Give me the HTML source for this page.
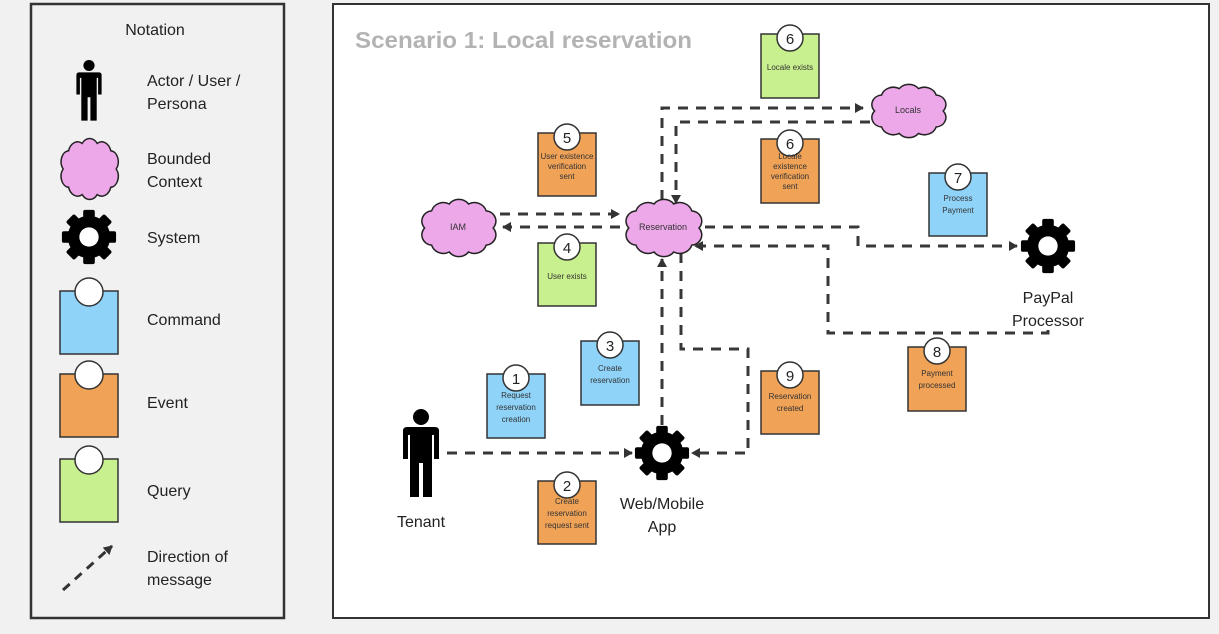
<!DOCTYPE html>
<html><head><meta charset="utf-8"><style>
html,body{margin:0;padding:0;background:#f1f1f1;}
svg{display:block;font-family:"Liberation Sans",sans-serif;}
</style></head><body>
<svg width="1219" height="634" viewBox="0 0 1219 634" xmlns="http://www.w3.org/2000/svg">
<defs>
<symbol id="gear" viewBox="-30 -30 60 60">
<g fill="#000">
<circle r="22"/>
<rect x="-6" y="-28" width="12" height="56" rx="2"/>
<rect x="-6" y="-28" width="12" height="56" rx="2" transform="rotate(45)"/>
<rect x="-6" y="-28" width="12" height="56" rx="2" transform="rotate(90)"/>
<rect x="-6" y="-28" width="12" height="56" rx="2" transform="rotate(135)"/>
</g>
<circle r="10" fill="#fff"/>
</symbol>
<symbol id="cloud" viewBox="0 0 100 70" preserveAspectRatio="none">
<path d="M20,55 a12,12 0 0 1 -8,-20 a12,12 0 0 1 8,-20 a14,14 0 0 1 20,-8 a14,14 0 0 1 22,0 a14,14 0 0 1 20,8 a12,12 0 0 1 8,20 a12,12 0 0 1 -8,20 a14,14 0 0 1 -20,8 a14,14 0 0 1 -22,0 a14,14 0 0 1 -20,-8 Z" fill="#eda8e9" stroke="#222" stroke-width="1.5" vector-effect="non-scaling-stroke"/>
</symbol>
<symbol id="person" viewBox="0 0 40 90" preserveAspectRatio="none">
<circle cx="20" cy="8" r="8" fill="#000"/>
<path d="M6,18 H34 Q38,18 38,22 V50 H33 V26 H31 V88 H22 V54 H18 V88 H9 V26 H7 V50 H2 V22 Q2,18 6,18 Z" fill="#000"/>
</symbol>
<marker id="ah" markerWidth="10" markerHeight="10" refX="8" refY="5" orient="auto" markerUnits="userSpaceOnUse">
<path d="M0,0 L9,5 L0,10 Z" fill="#333"/>
</marker>
</defs>

<!-- Legend -->
<rect x="31" y="4" width="253" height="614" fill="#f1f1f1" stroke="#333" stroke-width="2.5"/>
<g font-size="16" fill="#222">
<text x="155" y="35" text-anchor="middle">Notation</text>
<text x="147" y="86">Actor / User /</text>
<text x="147" y="109">Persona</text>
<text x="147" y="164">Bounded</text>
<text x="147" y="187">Context</text>
<text x="147" y="243">System</text>
<text x="147" y="325">Command</text>
<text x="147" y="408">Event</text>
<text x="147" y="496">Query</text>
<text x="147" y="562">Direction of</text>
<text x="147" y="585">message</text>
</g>
<use href="#person" x="75" y="60" width="28" height="62"/>
<use href="#cloud" x="55" y="137" width="68" height="64"/>
<use href="#gear" x="60" y="208" width="58" height="58"/>
<rect x="60" y="291" width="58" height="63" fill="#8fd3f8" stroke="#333" stroke-width="1.5"/>
<circle cx="89" cy="292" r="14" fill="#fff" stroke="#333" stroke-width="1.5"/>
<rect x="60" y="374" width="58" height="63" fill="#f0a257" stroke="#333" stroke-width="1.5"/>
<circle cx="89" cy="375" r="14" fill="#fff" stroke="#333" stroke-width="1.5"/>
<rect x="60" y="459" width="58" height="63" fill="#c9f08e" stroke="#333" stroke-width="1.5"/>
<circle cx="89" cy="460" r="14" fill="#fff" stroke="#333" stroke-width="1.5"/>
<line x1="63" y1="590" x2="112" y2="546" stroke="#333" stroke-width="3" stroke-dasharray="9 7" marker-end="url(#ah)"/>

<!-- Main -->
<rect x="333" y="4" width="876" height="614" fill="#fff" stroke="#333" stroke-width="2"/>
<text x="355" y="48" font-size="23" font-weight="bold" fill="#b3b3b3" textLength="337" lengthAdjust="spacingAndGlyphs">Scenario 1: Local reservation</text>

<!-- connectors -->
<g fill="none" stroke="#383838" stroke-width="3" stroke-dasharray="10 8">
<polyline points="447,453 632,453" marker-end="url(#ah)"/>
<polyline points="662,425 662,259" marker-end="url(#ah)"/>
<polyline points="681,253 681,349 748,349 748,453 692,453" marker-end="url(#ah)"/>
<polyline points="500,214 619,214" marker-end="url(#ah)"/>
<polyline points="620,227 503,227" marker-end="url(#ah)"/>
<polyline points="662,200 662,108 863,108" marker-end="url(#ah)"/>
<polyline points="870,122 676,122 676,203" marker-end="url(#ah)"/>
<polyline points="705,227 858,227 858,246 1017,246" marker-end="url(#ah)"/>
<polyline points="1048,330 1048,333 828,333 828,246 695,246" marker-end="url(#ah)"/>
</g>

<!-- clouds -->
<use href="#cloud" x="414" y="198" width="88" height="60"/>
<use href="#cloud" x="618" y="198" width="90" height="60"/>
<use href="#cloud" x="864" y="83" width="88" height="56"/>
<g font-size="9" fill="#333" text-anchor="middle">
<text x="458" y="230">IAM</text>
<text x="663" y="230">Reservation</text>
<text x="908" y="113">Locals</text>
</g>

<!-- gears & person -->
<use href="#gear" x="633" y="424" width="58" height="58"/>
<use href="#gear" x="1019" y="217" width="58" height="58"/>
<use href="#person" x="401" y="409" width="40" height="90"/>
<g font-size="16" fill="#222" text-anchor="middle">
<text x="421" y="527">Tenant</text>
<text x="662" y="509">Web/Mobile</text>
<text x="662" y="532">App</text>
<text x="1048" y="303">PayPal</text>
<text x="1048" y="326">Processor</text>
</g>

<!-- stickies -->
<g stroke="#333" stroke-width="1.5">
<rect x="761" y="34" width="58" height="64" fill="#c9f08e"/>
<rect x="538" y="133" width="58" height="63" fill="#f0a257"/>
<rect x="761" y="139" width="58" height="64" fill="#f0a257"/>
<rect x="929" y="173" width="58" height="63" fill="#8fd3f8"/>
<rect x="538" y="243" width="58" height="63" fill="#c9f08e"/>
<rect x="581" y="341" width="58" height="64" fill="#8fd3f8"/>
<rect x="487" y="374" width="58" height="64" fill="#8fd3f8"/>
<rect x="761" y="371" width="58" height="63" fill="#f0a257"/>
<rect x="908" y="347" width="58" height="64" fill="#f0a257"/>
<rect x="538" y="481" width="58" height="63" fill="#f0a257"/>
<g fill="#fff">
<circle cx="790" cy="38" r="13"/>
<circle cx="567" cy="137" r="13"/>
<circle cx="790" cy="143" r="13"/>
<circle cx="958" cy="177" r="13"/>
<circle cx="567" cy="247" r="13"/>
<circle cx="610" cy="345" r="13"/>
<circle cx="516" cy="378" r="13"/>
<circle cx="790" cy="375" r="13"/>
<circle cx="937" cy="351" r="13"/>
<circle cx="567" cy="485" r="13"/>
</g>
</g>
<g font-size="15" fill="#222" text-anchor="middle">
<text x="790" y="44">6</text>
<text x="567" y="143">5</text>
<text x="790" y="149">6</text>
<text x="958" y="183">7</text>
<text x="567" y="253">4</text>
<text x="610" y="351">3</text>
<text x="516" y="384">1</text>
<text x="790" y="381">9</text>
<text x="937" y="357">8</text>
<text x="567" y="491">2</text>
</g>
<g font-size="8" fill="#333" text-anchor="middle">
<text x="790" y="70">Locale exists</text>
<text x="567" y="159">User existence</text><text x="567" y="169">verification</text><text x="567" y="179">sent</text>
<text x="790" y="159">Locale</text><text x="790" y="169">existence</text><text x="790" y="179">verification</text><text x="790" y="189">sent</text>
<text x="958" y="201">Process</text><text x="958" y="213">Payment</text>
<text x="567" y="279">User exists</text>
<text x="610" y="371">Create</text><text x="610" y="383">reservation</text>
<text x="516" y="398">Request</text><text x="516" y="410">reservation</text><text x="516" y="422">creation</text>
<text x="790" y="399">Reservation</text><text x="790" y="411">created</text>
<text x="937" y="376">Payment</text><text x="937" y="388">processed</text>
<text x="567" y="504">Create</text><text x="567" y="516">reservation</text><text x="567" y="528">request sent</text>
</g>
</svg>
</body></html>
